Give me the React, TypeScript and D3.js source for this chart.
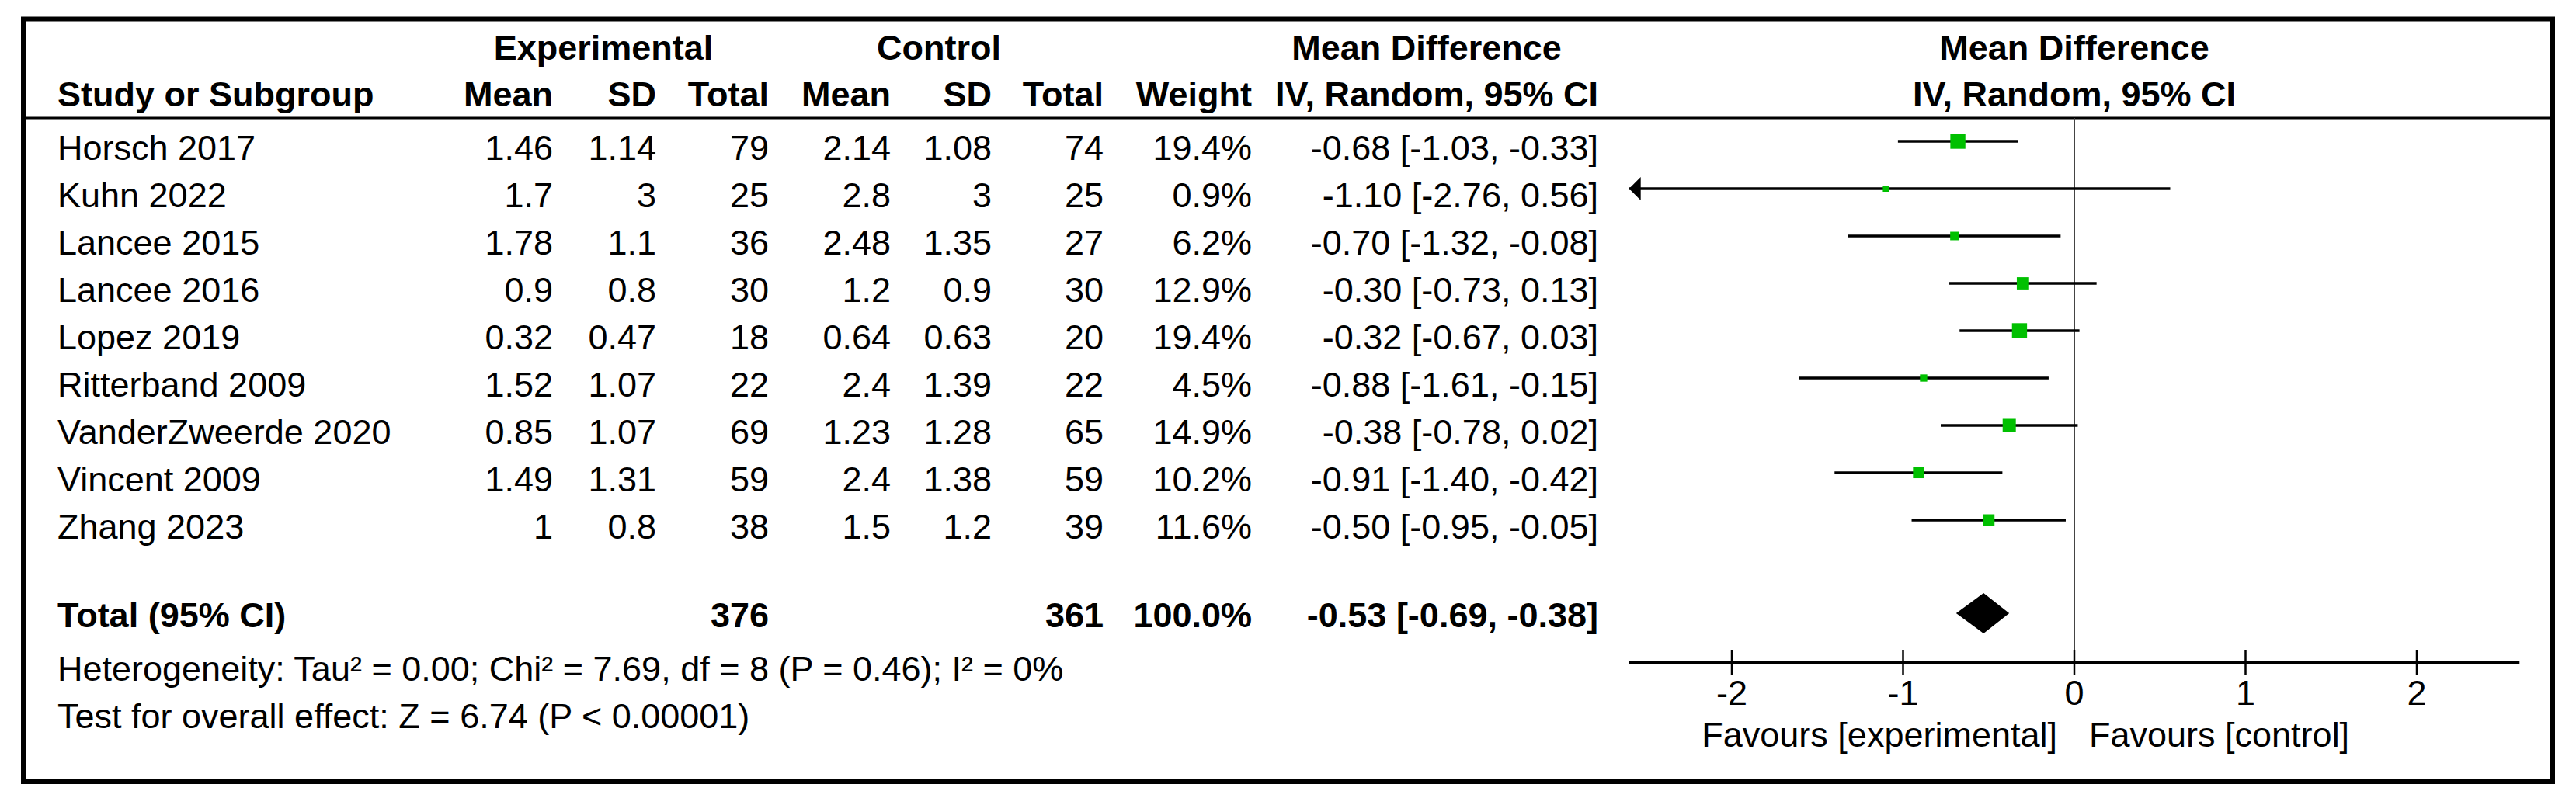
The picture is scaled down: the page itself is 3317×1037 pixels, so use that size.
import React from 'react';
import * as d3 from 'd3';

const studies = ['Horsch 2017', 'Kuhn 2022', 'Lancee 2015', 'Lancee 2016', 'Lopez 2019', 'Ritterband 2009', 'VanderZweerde 2020', 'Vincent 2009', 'Zhang 2023'];
const expMean = [1.46, 1.7, 1.78, 0.9, 0.32, 1.52, 0.85, 1.49, 1];
const expSD = [1.14, 3, 1.1, 0.8, 0.47, 1.07, 1.07, 1.31, 0.8];
const expTotal = [79, 25, 36, 30, 18, 22, 69, 59, 38];
const ctlMean = [2.14, 2.8, 2.48, 1.2, 0.64, 2.4, 1.23, 2.4, 1.5];
const ctlSD = [1.08, 3, 1.35, 0.9, 0.63, 1.39, 1.28, 1.38, 1.2];
const ctlTotal = [74, 25, 27, 30, 20, 22, 65, 59, 39];
const weights = [19.4, 0.9, 6.2, 12.9, 19.4, 4.5, 14.9, 10.2, 11.6];
const md = [-0.68, -1.10, -0.70, -0.30, -0.32, -0.88, -0.38, -0.91, -0.50];
const ciLow = [-1.03, -2.76, -1.32, -0.73, -0.67, -1.61, -0.78, -1.40, -0.95];
const ciHigh = [-0.33, 0.56, -0.08, 0.13, 0.03, -0.15, 0.02, -0.42, -0.05];

const totalExp = 376;
const totalCtl = 361;
const totalWeight = 100.0;
const totalMd = [-0.53, -0.69, -0.38];
const heterogeneity = 'Heterogeneity: Tau² = 0.00; Chi² = 7.69, df = 8 (P = 0.46); I² = 0%';
const overallTest = 'Test for overall effect: Z = 6.74 (P < 0.00001)';
const axisDomain = [-2.6, 2.6];

const W = 3317;
const H = 1037;
const FONT = '"Liberation Sans", Arial, sans-serif';
const FS = 45;
const GREEN = '#00c000';

// right edges of table columns
const col = {
  study: 74,
  eMean: 712, eSD: 845, eTot: 990,
  cMean: 1147, cSD: 1277, cTot: 1421,
  weight: 1612, ci: 2058,
};

const fmt2 = (v: number) => v.toFixed(2);
const ciText = (m: number, l: number, h: number) => `${fmt2(m)} [${fmt2(l)}, ${fmt2(h)}]`;

const App = () => {
  const x = d3.scaleLinear().domain(axisDomain).range([2097.7, 3244.3]);
  const y = d3.scalePoint<string>().domain(studies).range([206, 694]);
  const totalY = 808;
  const axisY = 853;
  const ticks = x.ticks(5);
  const side = (w: number) => Math.max(8, 4.4 * Math.sqrt(w));

  const txt = (props: any, s: string | number, anchor = 'end', bold = false) => (
    <text {...props} textAnchor={anchor} fontWeight={bold ? 'bold' : 'normal'}>{s}</text>
  );

  const diamond = d3.line()([
    [x(totalMd[1]), totalY - 18],
    [x(totalMd[0]), totalY - 44],
    [x(totalMd[2]), totalY - 18],
    [x(totalMd[0]), totalY + 8],
  ]) + 'Z';

  return (
    <svg width={W} height={H} style={{ position: 'absolute', left: 0, top: 0, background: '#fff' }}
      fontFamily={FONT} fontSize={FS} fill="#000">
      <rect x={0} y={0} width={W} height={H} fill="#fff" />
      <rect x={30} y={24.5} width={3257} height={982.5} fill="none" stroke="#000" strokeWidth={6} />

      {/* header */}
      {txt({ x: 777, y: 77 }, 'Experimental', 'middle', true)}
      {txt({ x: 1209, y: 77 }, 'Control', 'middle', true)}
      {txt({ x: 1837, y: 77 }, 'Mean Difference', 'middle', true)}
      {txt({ x: x(0), y: 77 }, 'Mean Difference', 'middle', true)}
      {txt({ x: col.study, y: 137 }, 'Study or Subgroup', 'start', true)}
      {txt({ x: col.eMean, y: 137 }, 'Mean', 'end', true)}
      {txt({ x: col.eSD, y: 137 }, 'SD', 'end', true)}
      {txt({ x: col.eTot, y: 137 }, 'Total', 'end', true)}
      {txt({ x: col.cMean, y: 137 }, 'Mean', 'end', true)}
      {txt({ x: col.cSD, y: 137 }, 'SD', 'end', true)}
      {txt({ x: col.cTot, y: 137 }, 'Total', 'end', true)}
      {txt({ x: col.weight, y: 137 }, 'Weight', 'end', true)}
      {txt({ x: col.ci, y: 137 }, 'IV, Random, 95% CI', 'end', true)}
      {txt({ x: x(0), y: 137 }, 'IV, Random, 95% CI', 'middle', true)}
      <line x1={30} x2={3287} y1={152} y2={152} stroke="#000" strokeWidth={3} />

      {/* zero line */}
      <line x1={x(0)} x2={x(0)} y1={152} y2={axisY} stroke="#444" strokeWidth={2} />

      {/* study rows */}
      {studies.map((s, i) => {
        const yy = y(s)!;
        const cy = yy - 24;
        const l = Math.max(ciLow[i], axisDomain[0]);
        const h = Math.min(ciHigh[i], axisDomain[1]);
        const sz = side(weights[i]);
        return (
          <g key={s}>
            {txt({ x: col.study, y: yy }, s, 'start')}
            {txt({ x: col.eMean, y: yy }, String(expMean[i]))}
            {txt({ x: col.eSD, y: yy }, String(expSD[i]))}
            {txt({ x: col.eTot, y: yy }, expTotal[i])}
            {txt({ x: col.cMean, y: yy }, String(ctlMean[i]))}
            {txt({ x: col.cSD, y: yy }, String(ctlSD[i]))}
            {txt({ x: col.cTot, y: yy }, ctlTotal[i])}
            {txt({ x: col.weight, y: yy }, `${weights[i].toFixed(1)}%`)}
            {txt({ x: col.ci, y: yy }, ciText(md[i], ciLow[i], ciHigh[i]))}
            <line x1={x(l)} x2={x(h)} y1={cy} y2={cy} stroke="#000" strokeWidth={3.5} />
            {ciLow[i] < axisDomain[0] && (
              <path d={`M${x(axisDomain[0])},${cy}L${x(axisDomain[0]) + 15},${cy - 15}L${x(axisDomain[0]) + 15},${cy + 15}Z`} fill="#000" />
            )}
            <rect x={x(md[i]) - sz / 2} y={cy - sz / 2} width={sz} height={sz} fill={GREEN} />
          </g>
        );
      })}

      {/* total row */}
      {txt({ x: col.study, y: totalY }, 'Total (95% CI)', 'start', true)}
      {txt({ x: col.eTot, y: totalY }, totalExp, 'end', true)}
      {txt({ x: col.cTot, y: totalY }, totalCtl, 'end', true)}
      {txt({ x: col.weight, y: totalY }, `${totalWeight.toFixed(1)}%`, 'end', true)}
      {txt({ x: col.ci, y: totalY }, ciText(totalMd[0], totalMd[1], totalMd[2]), 'end', true)}
      <path d={diamond} fill="#000" />

      {txt({ x: col.study, y: 877 }, heterogeneity, 'start')}
      {txt({ x: col.study, y: 938 }, overallTest, 'start')}

      {/* axis */}
      <line x1={x.range()[0]} x2={x.range()[1]} y1={axisY} y2={axisY} stroke="#000" strokeWidth={4} />
      {ticks.map(t => (
        <g key={t}>
          <line x1={x(t)} x2={x(t)} y1={837} y2={869} stroke="#000" strokeWidth={2.5} />
          {txt({ x: x(t), y: 908 }, String(t), 'middle')}
        </g>
      ))}
      {txt({ x: x(0) - 22, y: 962 }, 'Favours [experimental]', 'end')}
      {txt({ x: x(0) + 19, y: 962 }, 'Favours [control]', 'start')}
    </svg>
  );
};

export default App;
